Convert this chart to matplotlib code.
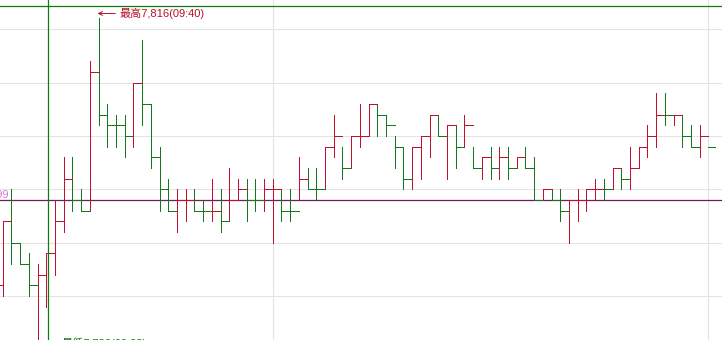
import numpy as np
import matplotlib.pyplot as plt
from matplotlib.transforms import offset_copy

plt.rcParams['font.family'] = ['Liberation Sans', 'Noto Sans CJK JP']

# previous close / day extremes
prev_close = 7799
day_high, high_time, high_bar = 7816, '09:40', 11
day_low, low_time, low_bar = 7786, '09:33', 4

# 1-minute bars, index -1 is the bar cut off at the left edge
bars = np.arange(-1, 82)
highs = [7793, 7797, 7800, 7795, 7794, 7793, 7794, 7799, 7803, 7803,
         7800, 7812, 7816, 7808, 7807, 7807, 7810, 7814, 7808, 7804,
         7801, 7800, 7800, 7800, 7799, 7801, 7800, 7802, 7801, 7801,
         7801, 7801, 7801, 7800, 7800, 7803, 7802, 7802, 7804, 7807,
         7804, 7805, 7808, 7808, 7808, 7807, 7805, 7804, 7804, 7805,
         7807, 7807, 7806, 7806, 7807, 7804, 7803, 7804, 7804, 7804,
         7803, 7804, 7803, 7800, 7800, 7800, 7799, 7800, 7800, 7801,
         7801, 7802, 7802, 7804, 7804, 7806, 7809, 7809, 7807, 7807,
         7806, 7806, 7804]
lows = [7790, 7790, 7793, 7793, 7790, 7786, 7789, 7792, 7796, 7798,
        7798, 7798, 7806, 7804, 7804, 7803, 7804, 7806, 7802, 7798,
        7798, 7796, 7797, 7798, 7797, 7797, 7796, 7797, 7799, 7797,
        7798, 7798, 7795, 7797, 7797, 7799, 7800, 7799, 7800, 7803,
        7801, 7802, 7804, 7805, 7805, 7805, 7802, 7800, 7800, 7801,
        7803, 7805, 7801, 7802, 7804, 7802, 7801, 7801, 7801, 7801,
        7802, 7802, 7799, 7799, 7799, 7797, 7795, 7797, 7798, 7799,
        7799, 7800, 7800, 7800, 7802, 7803, 7804, 7806, 7806, 7804,
        7804, 7803, 7804]
closes = [7791, 7797, 7795, 7793, 7791, 7792, 7794, 7797, 7801, 7799,
          7798, 7811, 7807, 7806, 7806, 7805, 7810, 7808, 7803, 7800,
          7798, 7799, 7799, 7798, 7798, 7798, 7797, 7799, 7800, 7799,
          7799, 7800, 7800, 7798, 7798, 7801, 7800, 7800, 7804, 7805,
          7802, 7805, 7805, 7808, 7807, 7806, 7804, 7801, 7804, 7805,
          7807, 7805, 7806, 7804, 7806, 7802, 7803, 7802, 7803, 7802,
          7803, 7802, 7799, 7800, 7799, 7798, 7799, 7799, 7800, 7800,
          7800, 7802, 7801, 7802, 7804, 7805, 7807, 7807, 7807, 7805,
          7804, 7805, 7804]
# r = up bar, g = down bar
directions = ('rrgggrrrrg' 'grggggrggg' 'grrggrgrrg' 'grrggrggrr'
              'grrrggggrr' 'rgrgrgrgrg' 'rggrggrrrr' 'grgrrrrgrg' 'grg')

UP = '#c4102c'
DOWN = '#16781c'
colors = [UP if d == 'r' else DOWN for d in directions]

fig = plt.figure(figsize=(7.22, 3.40), dpi=100)
ax = fig.add_axes([0, 0, 1, 1])

# horizontal price grid every 5 yen, time grid
for p in [7790, 7795, 7800, 7805, 7810, 7815]:
    ax.axhline(p, color='#e4e4e4', lw=0.8, zorder=0)
for b in [31, 81]:
    ax.axvline(b, color='#e4e4e4', lw=0.8, zorder=0)

# previous close line and label
ax.axhline(prev_close, color='#6c1f50', lw=0.9, zorder=1)
ax.annotate(f'{prev_close:,}', xy=(0, prev_close), xycoords=('axes fraction', 'data'),
            xytext=(8.5, 6), textcoords='offset pixels', ha='right', va='center',
            color='#d77bd7', fontsize=8)

# bars: high-low range, close tick running to the next bar
ends = bars + 1.0
ends[-1] = bars[-1] + 0.72
ax.vlines(bars, lows, highs, colors=colors, lw=0.7, antialiased=False, zorder=2)
ax.hlines(closes, bars, ends, colors=colors, lw=0.7, antialiased=False, zorder=2)

# cursor crosshair
ax.axvline(5.23, color='#0f7a0f', lw=0.9, zorder=3)
ax.axhline(7817.2, color='#0f7a0f', lw=0.9, zorder=3)

# high / low annotations with a long arrow pointing at the bar
arrow = dict(arrowstyle='->', lw=0.7, shrinkA=1, shrinkB=0, mutation_scale=7)
hi_anchor = offset_copy(ax.transData, fig=fig, x=-1, y=5, units='dots')
ax.annotate(f'最高{day_high:,}({high_time})', xy=(high_bar, day_high), xycoords=hi_anchor,
            xytext=(22, 0), textcoords='offset pixels', ha='left', va='center',
            color='#b8102a', fontsize=8, arrowprops=dict(arrow, color='#b8102a'))
lo_anchor = offset_copy(ax.transData, fig=fig, x=2, y=-4, units='dots')
ax.annotate(f'最低{day_low:,}({low_time})', xy=(low_bar, day_low), xycoords=lo_anchor,
            xytext=(22, 0), textcoords='offset pixels', ha='left', va='center',
            color='#16781c', fontsize=8, arrowprops=dict(arrow, color='#16781c'))

ax.set_xlim(-0.31, 82.56)
ax.set_ylim(7785.89, 7817.73)
ax.axis('off')

fig.savefig('out.png', dpi=100)
